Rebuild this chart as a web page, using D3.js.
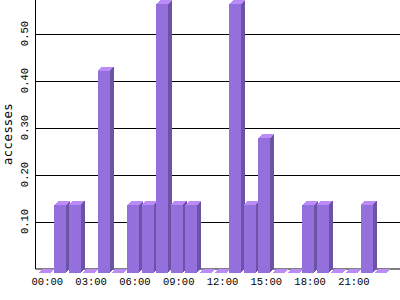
<!DOCTYPE html>
<html>
<head>
<meta charset="utf-8">
<script src="https://cdn.jsdelivr.net/npm/d3@7"></script>
<style>
  body { margin: 0; background: #fff; }
  svg { display: block; }
</style>
</head>
<body>
<svg id="chart" width="400" height="300"></svg>
<script>
// hourly accesses (average per day)
const hours = ["00:00","01:00","02:00","03:00","04:00","05:00","06:00","07:00",
               "08:00","09:00","10:00","11:00","12:00","13:00","14:00","15:00",
               "16:00","17:00","18:00","19:00","20:00","21:00","22:00","23:00"];
const accesses = [0, 0.143, 0.143, 0, 0.429, 0, 0.143, 0.143,
                  0.571, 0.143, 0.143, 0, 0, 0.571, 0.143, 0.286,
                  0, 0, 0.143, 0.143, 0, 0, 0.143, 0];
const yTicks = [0.1, 0.2, 0.3, 0.4, 0.5];
const xLabels = ["00:00","03:00","06:00","09:00","12:00","15:00","18:00","21:00"];

const svg = d3.select("#chart");

const axisX = 35.5;
const baseY = 268.5;
const depth = 4;      // 3d offset of the back face
const front = 12;     // width of the bar front

const xScale = d3.scaleBand()
    .domain(hours)
    .range([39.3, 389.7])
    .padding(0);

const yScale = d3.scaleLinear()
    .domain([0, 0.5714])
    .range([baseY, 0]);

// grid lines
svg.append("g")
    .selectAll("line")
    .data(yTicks)
    .join("line")
    .attr("x1", axisX)
    .attr("x2", 400)
    .attr("y1", d => Math.round(yScale(d)) + 0.5)
    .attr("y2", d => Math.round(yScale(d)) + 0.5)
    .attr("stroke", "#000")
    .attr("stroke-width", 1);

// axes lines
svg.append("line")
    .attr("x1", axisX).attr("x2", axisX)
    .attr("y1", 0).attr("y2", baseY + 0.5)
    .attr("stroke", "#000");
svg.append("line")
    .attr("x1", axisX).attr("x2", 400)
    .attr("y1", baseY + 0.5).attr("y2", baseY + 0.5)
    .attr("stroke", "#000");

// 3d bars
const bars = svg.append("g")
    .attr("shape-rendering", "crispEdges")
    .selectAll("g")
    .data(hours.map((h, i) => ({ h: h, v: accesses[i] })))
    .join("g");

// back face sits on the value, front is shifted down-left
bars.each(function(d) {
    const g = d3.select(this);
    const bx = xScale(d.h) + depth;          // back left
    const by = yScale(d.v);                  // back top
    const fx = xScale(d.h);                  // front left
    const fy = by + depth;                   // front top
    const fb = baseY + depth;                // front bottom

    if (d.v > 0) {
        g.append("rect")
            .attr("x", fx).attr("y", fy)
            .attr("width", front).attr("height", fb - fy)
            .attr("fill", "#9370db");
        g.append("path")
            .attr("d", `M${fx + front},${fy} L${bx + front},${by} L${bx + front},${baseY} L${fx + front},${fb} Z`)
            .attr("fill", "#6c53a8");
    }
    g.append("path")
        .attr("d", `M${fx},${fy} L${bx},${by} L${bx + front},${by} L${fx + front},${fy} Z`)
        .attr("fill", "#bb8cf7");
});

// y tick labels (rotated)
svg.append("g")
    .selectAll("text")
    .data(yTicks)
    .join("text")
    .attr("transform", d => `translate(27.5,${yScale(d)}) rotate(-90)`)
    .attr("text-anchor", "middle")
    .style("font-family", "Liberation Mono, monospace")
    .style("font-size", "10.5px")
    .text(d => d.toFixed(2));

// x labels
svg.append("g")
    .selectAll("text")
    .data(xLabels)
    .join("text")
    .attr("x", d => xScale(d) + (front + depth) / 2)
    .attr("y", 285)
    .attr("text-anchor", "middle")
    .style("font-family", "Liberation Mono, monospace")
    .style("font-size", "10.5px")
    .text(d => d);

// axis title
svg.append("text")
    .attr("transform", `translate(12,134) rotate(-90)`)
    .attr("text-anchor", "middle")
    .style("font-family", "DejaVu Sans, sans-serif")
    .style("font-size", "12px")
    .style("letter-spacing", "1px")
    .text("accesses");
</script>
</body>
</html>
